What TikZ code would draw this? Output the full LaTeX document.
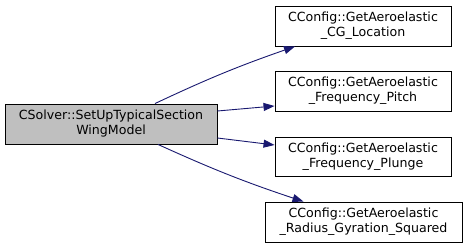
\documentclass[tikz,border=0pt]{standalone}
\usepackage{fontspec}
\setmainfont{DejaVu Sans}
\usetikzlibrary{arrows.meta}
\definecolor{edgeblue}{RGB}{25,25,112}
\definecolor{callergray}{RGB}{191,191,191}

\begin{document}
\begin{tikzpicture}[x=1pt,y=-1pt,
    fn/.style={draw=black,line width=0.9pt,align=center,inner sep=0pt,
      minimum height=40pt,font=\fontsize{12.6}{15}\selectfont},
    call/.style={draw=edgeblue,line width=0.9pt,
      -{Triangle[length=11pt,width=8pt,fill=edgeblue]}}]
  % page size, in pixels of the call graph
  \useasboundingbox (0,0) rectangle (467,248);

  % caller
  \node[fn,fill=callergray,minimum width=212pt] (setup) at (111,124)
    {CSolver::SetUpTypicalSection\\WingModel};

  % callees, one column on the right
  \node[fn,minimum width=176pt] (cg) at (363,26)
    {CConfig::GetAeroelastic\\\_CG\_Location};
  \node[fn,minimum width=176pt] (pitch) at (363,91)
    {CConfig::GetAeroelastic\\\_Frequency\_Pitch};
  \node[fn,minimum width=176pt,minimum height=39pt] (plunge) at (363,156.5)
    {CConfig::GetAeroelastic\\\_Frequency\_Plunge};
  \node[fn,minimum width=197pt] (radius) at (363.5,222)
    {CConfig::GetAeroelastic\\\_Radius\_Gyration\_Squared};

  % calls
  \draw[call] ([xshift=44pt]setup.north) to[bend left=3] ([xshift=-68pt]cg.south);
  \draw[call] ([yshift=13pt]setup.east) -- ([yshift=-15pt]pitch.west);
  \draw[call] ([yshift=-14pt]setup.east) -- ([yshift=11.5pt]plunge.west);
  \draw[call] ([xshift=47pt]setup.south) to[bend right=3] ([xshift=-60pt]radius.north);
\end{tikzpicture}
\end{document}
